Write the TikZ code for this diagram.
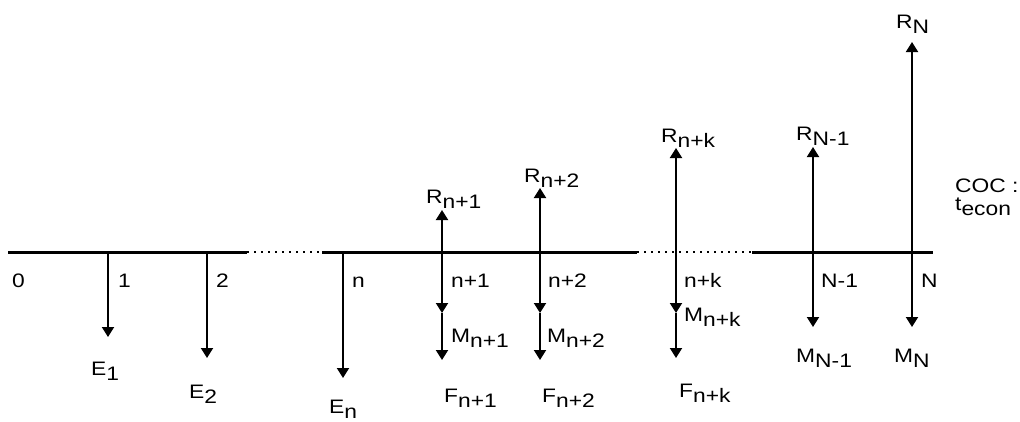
\documentclass[tikz,border=0pt]{standalone}
\usepackage{fontspec}
\setmainfont{Liberation Sans}[FakeStretch=1.17]
\usetikzlibrary{arrows.meta}
\newcommand{\lowsub}[1]{\raisebox{-5pt}{#1}}
\begin{document}
\begin{tikzpicture}[x=1pt,y=-1pt,
  axisline/.style={line width=3pt},
  dotline/.style={line width=1.8pt, dash pattern=on 2pt off 5pt},
  arr/.style={line width=1.9pt, -{Triangle[width=12pt,length=10pt]}},
  lbl/.style={font=\fontsize{19.5}{22}\selectfont, inner sep=0pt, anchor=base west}]
\useasboundingbox (0,0) rectangle (1020,421);
% axis
\coordinate (a0) at (8,252);
\coordinate (a1) at (247,252);
\coordinate (b0) at (322,252);
\coordinate (b1) at (637,252);
\coordinate (c0) at (752,252);
\coordinate (c1) at (933,252);
\draw[axisline] (a0) -- (a1);
\draw[dotline] (a1) -- (b0);
\draw[axisline] (b0) -- (b1);
\draw[dotline] (b1) -- (c0);
\draw[axisline] (c0) -- (c1);
% ticks on axis
\coordinate (p1) at (108,252);
\coordinate (p2) at (207,252);
\coordinate (pn) at (343,252);
\coordinate (pn1) at (442,252);
\coordinate (pn2) at (540,252);
\coordinate (pnk) at (676,252);
\coordinate (pN1) at (813,252);
\coordinate (pN) at (912,252);
% ends
\coordinate (e1) at (108,337);
\coordinate (e2) at (207,358);
\coordinate (en) at (343,378);
\coordinate (rn1) at (442,210);
\coordinate (rn2) at (540,188);
\coordinate (rnk) at (676,148);
\coordinate (rN1) at (813,147);
\coordinate (rN) at (912,42);
\coordinate (mn1) at (442,313);
\coordinate (mn2) at (540,313);
\coordinate (mnk) at (676,313);
\coordinate (mN1) at (813,327);
\coordinate (mN) at (912,327);
\coordinate (fn1) at (442,360);
\coordinate (fn2) at (540,360);
\coordinate (fnk) at (676,358);
% arrows
\draw[arr] (p1) -- (e1);
\draw[arr] (p2) -- (e2);
\draw[arr] (pn) -- (en);
\draw[arr] (pn1) -- (rn1);
\draw[arr] (pn2) -- (rn2);
\draw[arr] (pnk) -- (rnk);
\draw[arr] (pN1) -- (rN1);
\draw[arr] (pN) -- (rN);
\draw[arr] (pn1) -- (mn1);
\draw[arr] (mn1) -- (fn1);
\draw[arr] (pn2) -- (mn2);
\draw[arr] (mn2) -- (fn2);
\draw[arr] (pnk) -- (mnk);
\draw[arr] (mnk) -- (fnk);
\draw[arr] (pN1) -- (mN1);
\draw[arr] (pN) -- (mN);
% tick labels
\node[lbl] (l0) at (12,287) {0};
\node[lbl] (l1) at (118,287) {1};
\node[lbl] (l2) at (216,287) {2};
\node[lbl] (ln) at (352,287) {n};
\node[lbl] (ln1) at (451,287) {n+1};
\node[lbl] (ln2) at (548,287) {n+2};
\node[lbl] (lnk) at (684,287) {n+k};
\node[lbl] (lN1) at (821,287) {N-1};
\node[lbl] (lN) at (921,287) {N};
% E labels
\node[lbl] (E1) at (91,375) {E\lowsub{1}};
\node[lbl] (E2) at (189,398) {E\lowsub{2}};
\node[lbl] (En) at (329,413) {E\lowsub{n}};
% R labels
\node[lbl] (Rn1) at (426,203) {R\lowsub{n+1}};
\node[lbl] (Rn2) at (524,182) {R\lowsub{n+2}};
\node[lbl] (Rnk) at (661,142) {R\lowsub{n+k}};
\node[lbl] (RN1) at (796,140) {R\lowsub{N-1}};
\node[lbl] (RN) at (896,28) {R\lowsub{N}};
% M labels
\node[lbl] (Mn1) at (451,342) {M\lowsub{n+1}};
\node[lbl] (Mn2) at (547,342) {M\lowsub{n+2}};
\node[lbl] (Mnk) at (684,321) {M\lowsub{n+k}};
\node[lbl] (MN1) at (796,362) {M\lowsub{N-1}};
\node[lbl] (MN) at (894,362) {M\lowsub{N}};
% F labels
\node[lbl] (Fn1) at (444,402) {F\lowsub{n+1}};
\node[lbl] (Fn2) at (542,402) {F\lowsub{n+2}};
\node[lbl] (Fnk) at (679,397) {F\lowsub{n+k}};
% side text
\node[lbl] (coc) at (955,192) {COC :};
\node[lbl] (tecon) at (955,210) {t\lowsub{econ}};
\end{tikzpicture}
\end{document}
